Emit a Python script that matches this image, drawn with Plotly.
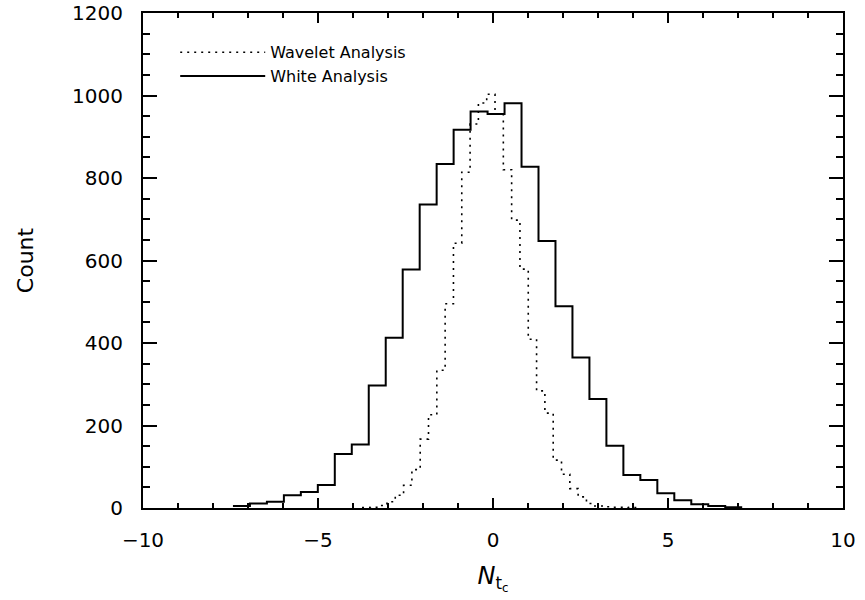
import numpy as np
import plotly.graph_objects as go

# White Analysis histogram (solid)
white_start = -7.43
white_width = 0.485
white_counts = [5, 11, 15, 31, 39, 56, 131, 154, 297, 413, 578, 736, 834, 917,
                961, 955, 981, 827, 647, 489, 365, 264, 151, 80, 68, 36, 19, 9, 5, 2]

# Wavelet Analysis histogram (dotted)
wave_start = -3.7425
wave_width = 0.2375
wave_counts = [1, 2, 6, 15, 31, 55, 93, 167, 226, 334, 495, 642, 814, 931, 982,
               1003, 955, 820, 698, 579, 409, 284, 230, 116, 82, 47, 27, 11, 5,
               3, 2, 2, 1]

x_ticks = [-10, -5, 0, 5, 10]
x_ticklabels = ["\u221210", "\u22125", "0", "5", "10"]
y_ticks = [0, 200, 400, 600, 800, 1000, 1200]


def step_xy(start, width, counts):
    edges = start + width * np.arange(len(counts) + 1)
    ys = list(counts) + [counts[-1]]
    return edges, ys


fig = go.Figure()
wx, wy = step_xy(wave_start, wave_width, wave_counts)
fig.add_trace(go.Scatter(x=wx, y=wy, mode="lines", line_shape="hv",
                         name="Wavelet Analysis",
                         line=dict(color="black", width=1.6, dash="2px,5px")))
sx, sy = step_xy(white_start, white_width, white_counts)
fig.add_trace(go.Scatter(x=sx, y=sy, mode="lines", line_shape="hv",
                         name="White Analysis",
                         line=dict(color="black", width=2)))

font_family = "DejaVu Sans"
axis_common = dict(showline=True, linecolor="black", linewidth=2, mirror="ticks",
                   ticks="inside", tickcolor="black", tickwidth=1.5,
                   showgrid=False, zeroline=False, ticklabeloverflow="allow",
                   tickfont=dict(family=font_family, size=20, color="black"))

fig.update_xaxes(range=[-10, 10], tickvals=x_ticks, ticktext=x_ticklabels,
                 ticklen=10, ticklabelstandoff=13,
                 minor=dict(dtick=1, ticklen=5, ticks="inside", tickcolor="black",
                            tickwidth=1.5, showgrid=False),
                 title=dict(text="<i>N</i><sub>t<sub>c</sub></sub>",
                            font=dict(family=font_family, size=24, color="black"),
                            standoff=16),
                 **axis_common)
fig.update_yaxes(range=[0, 1200], tickvals=y_ticks, ticklen=14,
                 minor=dict(dtick=50, ticklen=7, ticks="inside", tickcolor="black",
                            tickwidth=1.5, showgrid=False),
                 ticklabelstandoff=14,
                 title=dict(text="Count",
                            font=dict(family=font_family, size=22, color="black"),
                            standoff=32),
                 **axis_common)

fig.update_layout(
    width=865, height=600,
    margin=dict(l=143, r=22, t=13, b=92, autoexpand=False),
    paper_bgcolor="white", plot_bgcolor="white",
    showlegend=True,
    legend=dict(x=0.046, y=0.955, xanchor="left", yanchor="top",
                bgcolor="rgba(0,0,0,0)", borderwidth=0, itemwidth=85,
                font=dict(family=font_family, size=16, color="black"),
                tracegroupgap=0),
)

fig.write_html("out.html", config={"displayModeBar": False},
               post_script="document.body.style.margin='0';")
